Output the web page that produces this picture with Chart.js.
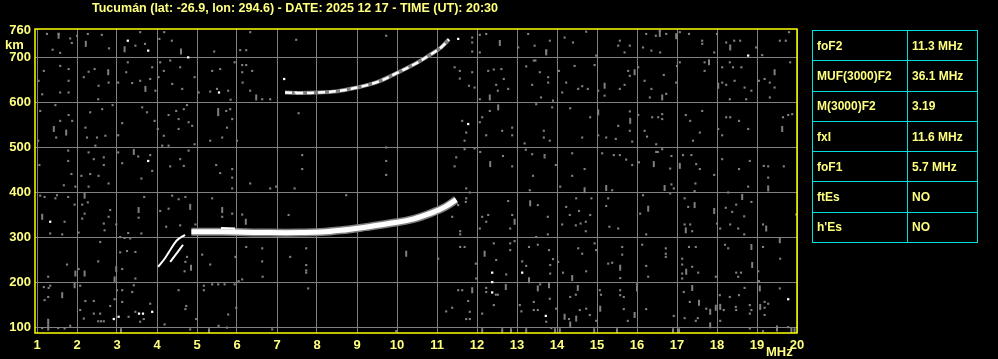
<!DOCTYPE html>
<html>
<head>
<meta charset="utf-8">
<script src="https://cdn.jsdelivr.net/npm/chart.js@4.4.1/dist/chart.umd.min.js"></script>
<style>
  html, body { margin: 0; padding: 0; background: #000; }
  #wrap { position: relative; width: 998px; height: 359px; }
  #iono { position: absolute; left: 0; top: 0; }
  #params {
    position: absolute; left: 812px; top: 30px;
    border-collapse: collapse;
    font: bold 12px "Liberation Sans", Arial, sans-serif;
    color: #ffff80;
  }
  #params td {
    border: 1px solid #00e0e0;
    height: 29.3px; padding: 0 0 0 4px;
  }
  #params td.k { width: 90px; }
  #params td.v { width: 65px; }
</style>
</head>
<body>
<div id="wrap">
  <canvas id="iono" width="998" height="359"></canvas>
  <table id="params"></table>
</div>
<script>
/* ===================================
   IONOGRAM - Tucumán
   =================================== */

const titleText = 'Tucumán (lat: -26.9, lon: 294.6) - DATE: 2025 12 17 - TIME (UT): 20:30';
const freqTicks = [1, 2, 3, 4, 5, 6, 7, 8, 9, 10, 11, 12, 13, 14, 15, 16, 17, 18, 19, 20];
const heightTicks = [100, 200, 300, 400, 500, 600, 700, 760];

// parameter table
const paramNames = ['foF2', 'MUF(3000)F2', 'M(3000)F2', 'fxI', 'foF1', 'ftEs', "h'Es"];
const paramValues = ['11.3 MHz', '36.1 MHz', '3.19', '11.6 MHz', '5.7 MHz', 'NO', 'NO'];

// echo traces [MHz, km]
const f2Trace = [[4.86, 313], [5.3, 313], [6.0, 312], [6.8, 311], [7.6, 311], [8.1, 312], [8.6, 316],
                 [9.2, 323], [9.8, 331], [10.4, 341], [10.9, 356], [11.2, 368], [11.48, 384]];
const f1LineA = [[4.03, 235], [4.2, 254], [4.35, 275], [4.5, 294], [4.7, 306]];
const f1LineB = [[4.33, 246], [4.5, 266], [4.65, 284]];
const f2Fragment = [[5.6, 321], [5.95, 320]];
const hop2Trace = [[7.2, 622], [7.6, 621], [8.0, 622], [8.5, 625], [9.0, 633], [9.5, 645],
                   [9.9, 661], [10.5, 688], [10.85, 707], [11.1, 722], [11.3, 740]];
const whiteSpots = [[3.27, 737], [3.78, 715], [4.78, 700], [5.55, 622], [11.53, 741], [11.78, 552],
                    [18.78, 704], [1.33, 335], [2.92, 119], [3.04, 124], [3.55, 131], [3.65, 131],
                    [3.88, 135], [12.38, 222], [12.38, 201], [12.38, 178], [13.13, 222], [13.72, 126],
                    [19.78, 163], [7.47, 622], [7.18, 652], [3.78, 470]];

// background noise dots
const noiseDots = [
  [1.25, 752], [1.54, 752], [1.83, 742], [2.0, 748], [2.27, 752], [2.62, 750], [1.39, 717], [1.58, 710],
  [1.87, 732], [2.8, 720], [3.46, 726], [3.7, 730], [4.06, 741], [4.37, 737], [4.6, 713], [4.18, 756],
  [3.58, 756], [5.43, 713], [6.08, 716], [6.23, 716], [6.33, 756], [7.48, 739], [9.73, 748],
  [1.17, 670], [1.04, 648], [1.58, 681], [1.79, 674], [1.79, 648], [1.58, 622], [1.79, 622], [1.13, 618],
  [2.17, 656], [2.29, 668], [2.44, 674], [2.54, 637], [2.79, 644], [2.53, 607], [3.03, 644], [3.23, 667],
  [3.27, 689], [3.38, 643], [3.58, 648], [3.83, 652], [3.88, 678], [4.08, 689], [4.33, 693], [4.17, 670],
  [4.58, 678], [4.04, 656], [3.96, 626], [4.38, 641], [4.63, 630], [4.94, 656], [5.38, 670], [5.58, 674],
  [5.5, 630], [5.33, 624], [5.78, 626], [5.04, 622], [5.94, 689], [6.13, 683], [6.23, 683], [6.38, 670],
  [6.13, 667], [6.14, 644], [6.33, 626], [6.63, 607], [6.83, 607], [5.84, 606],
  [1.08, 581], [1.46, 594], [1.79, 572], [1.58, 559], [1.48, 522], [1.03, 515], [1.88, 559], [2.21, 544],
  [2.33, 578], [2.63, 585], [2.5, 522], [2.25, 522], [2.71, 526], [2.89, 594], [3.13, 554], [3.03, 527],
  [3.63, 589], [3.75, 578], [3.94, 559], [4.02, 541], [4.17, 526], [4.29, 572], [4.48, 581], [4.67, 585],
  [4.54, 563], [4.79, 556], [4.54, 541], [4.75, 594], [4.88, 548], [4.94, 507], [5.33, 515], [5.53, 572],
  [5.73, 581], [5.75, 544], [5.83, 585], [5.88, 563], [5.63, 522], [6.0, 515], [7.54, 576],
  [1.06, 461], [1.78, 493], [1.78, 470], [1.86, 441], [2.11, 437], [2.29, 489], [2.46, 504], [2.42, 474],
  [2.67, 478], [2.67, 461], [2.33, 441], [2.54, 437], [3.03, 489], [3.13, 465], [3.53, 480], [3.83, 483],
  [3.88, 448], [3.61, 431], [4.13, 504], [4.29, 504], [4.58, 474], [4.67, 459], [4.33, 458], [4.79, 493],
  [5.48, 461], [5.58, 443], [5.88, 452], [5.88, 433], [7.63, 483], [7.63, 452], [9.73, 500], [9.73, 470],
  [9.73, 439],
  [12.07, 750], [12.23, 752], [11.88, 744], [11.88, 733], [11.88, 713], [12.07, 711], [13.03, 722],
  [13.28, 752], [13.44, 726], [13.73, 715], [13.82, 737], [14.19, 744], [14.4, 733], [14.73, 757],
  [14.98, 704], [15.53, 726], [15.57, 737], [15.69, 711], [15.82, 726], [16.15, 722], [16.23, 752],
  [16.36, 715], [16.47, 748], [16.57, 759], [16.58, 711], [16.73, 752], [17.07, 756], [17.3, 752],
  [17.63, 737], [17.63, 730], [17.93, 711], [18.0, 752], [18.23, 733], [18.43, 737], [18.58, 737],
  [19.13, 705], [18.98, 722], [19.57, 737], [19.72, 737], [19.8, 756],
  [11.44, 678], [11.57, 670], [11.57, 653], [11.88, 667], [11.8, 637], [11.94, 633], [12.07, 607],
  [12.28, 670], [12.42, 673], [12.61, 674], [12.67, 652], [12.48, 639], [12.52, 626], [12.78, 630],
  [13.23, 680], [13.38, 639], [13.57, 667], [13.78, 656], [13.78, 644], [13.6, 611], [13.9, 604],
  [13.42, 693], [13.46, 693], [14.05, 670], [14.23, 644], [14.44, 681], [14.53, 630], [14.63, 636],
  [14.77, 630], [14.13, 622], [14.94, 683], [15.03, 626], [15.19, 615], [15.57, 630], [15.69, 639],
  [15.82, 659], [15.78, 670], [16.03, 678], [16.19, 648], [16.36, 630], [16.32, 611], [16.67, 661],
  [16.73, 619], [16.98, 644], [17.0, 681], [17.07, 689], [17.69, 689], [17.69, 670], [18.13, 678],
  [18.32, 689], [18.4, 678], [18.61, 678], [18.13, 644], [18.23, 639], [18.44, 648], [18.69, 633],
  [18.86, 626], [18.32, 607], [18.73, 607], [19.19, 652], [19.32, 644], [19.44, 633], [19.32, 611],
  [19.83, 689], [19.05, 648],
  [11.63, 559], [11.73, 533], [11.69, 515], [12.07, 556], [12.13, 567], [12.23, 527], [12.32, 581],
  [12.63, 537], [12.88, 544], [12.88, 527], [13.19, 509], [13.48, 596], [13.67, 537], [13.67, 522],
  [13.82, 515], [13.88, 589], [14.33, 587], [14.63, 522], [14.83, 567], [15.03, 527], [15.23, 522],
  [15.47, 519], [15.53, 548], [15.82, 580], [15.82, 537], [15.88, 513], [16.03, 572], [16.19, 537],
  [16.25, 524], [16.38, 567], [16.53, 567], [16.63, 563], [16.63, 574], [16.48, 507], [17.22, 572],
  [17.33, 559], [17.63, 581], [17.57, 533], [17.4, 515], [18.03, 541], [18.13, 527], [18.23, 567],
  [18.33, 567], [18.55, 559], [18.78, 541], [19.78, 572], [19.65, 567], [19.88, 574],
  [11.48, 478], [11.44, 458], [11.69, 496], [11.94, 498], [12.08, 490], [12.65, 481], [12.88, 458],
  [13.22, 495], [13.38, 485], [13.4, 437], [13.69, 483], [13.69, 478], [13.97, 461], [14.38, 487],
  [14.38, 437], [14.69, 452], [15.13, 487], [15.42, 483], [15.57, 483], [15.73, 473], [15.88, 461],
  [16.05, 467], [16.48, 490], [16.52, 490], [16.63, 496], [16.86, 481], [16.83, 453], [17.15, 483],
  [17.36, 483], [17.48, 463], [17.57, 452], [17.93, 439], [18.13, 474], [18.55, 452], [18.82, 470],
  [19.17, 459], [19.28, 458], [19.67, 458], [19.28, 433],
  [1.67, 416], [1.96, 413], [2.29, 413], [2.79, 420], [5.88, 409], [6.33, 420], [6.83, 409], [6.98, 413],
  [7.44, 409], [1.08, 393], [1.19, 390], [1.5, 394], [1.78, 390], [1.33, 309], [1.46, 387], [1.69, 335],
  [1.63, 307], [1.94, 373], [2.13, 373], [2.27, 378], [2.19, 353], [2.13, 342], [2.04, 311], [2.67, 331],
  [2.69, 316], [2.83, 361], [2.79, 346], [2.98, 329], [3.08, 301], [3.28, 310], [3.61, 309], [3.54, 344],
  [3.68, 390], [4.38, 393], [4.54, 385], [4.71, 390], [4.29, 364], [4.08, 359], [4.23, 324], [4.58, 327],
  [4.96, 329], [5.38, 387], [5.63, 346], [5.88, 353], [6.13, 351], [7.29, 350], [8.73, 394],
  [2.58, 290], [3.08, 267], [3.25, 270], [3.46, 268], [2.53, 247], [1.75, 240], [2.04, 230], [3.13, 230],
  [3.33, 298], [3.19, 299], [3.46, 209], [1.28, 213], [4.71, 246], [4.75, 257], [4.69, 225], [5.13, 262],
  [5.33, 240], [5.96, 257], [6.23, 279], [6.63, 276], [6.63, 247], [6.64, 213], [6.04, 203], [6.13, 207],
  [7.33, 257], [7.73, 276], [7.73, 239], [7.73, 227], [7.73, 222],
  [1.17, 190], [1.29, 188], [1.19, 161], [1.28, 168], [1.33, 193], [2.08, 193], [2.21, 159], [2.42, 159],
  [2.08, 139], [2.17, 120], [2.42, 131], [2.58, 131], [2.53, 114], [2.6, 114], [2.67, 114], [2.83, 148],
  [2.94, 163], [3.0, 183], [3.13, 183], [3.38, 179], [3.13, 157], [3.42, 194], [3.46, 135], [3.29, 124],
  [3.83, 153], [3.67, 119], [3.58, 113], [4.19, 107], [4.54, 183], [4.73, 148], [4.71, 141], [5.17, 193],
  [5.17, 183], [5.38, 196], [5.53, 196], [5.69, 196], [5.94, 196], [5.98, 144], [5.78, 129], [4.98, 119],
  [5.54, 104], [5.75, 100], [4.83, 96], [6.88, 96], [7.78, 187], [9.98, 92], [1.53, 99], [1.69, 98],
  [1.83, 104], [1.13, 99],
  [11.73, 409], [11.82, 400], [13.32, 405], [14.08, 413], [15.38, 405], [16.86, 418], [16.92, 409],
  [16.83, 398], [17.44, 403], [17.46, 420], [18.28, 400], [18.78, 413],
  [11.73, 387], [11.72, 379], [11.53, 372], [11.38, 346], [11.58, 314], [11.58, 307], [12.13, 346],
  [12.28, 350], [12.23, 335], [12.07, 320], [12.78, 381], [12.88, 350], [12.83, 320], [13.52, 372],
  [13.48, 301], [13.77, 346], [13.77, 307], [14.13, 329], [14.23, 368], [14.32, 350], [14.48, 387],
  [14.47, 327], [14.55, 359], [14.59, 331], [14.72, 335], [14.72, 314], [14.83, 350], [14.86, 387],
  [15.28, 387], [15.31, 324], [15.53, 320], [15.23, 370], [16.15, 394], [16.08, 353], [16.23, 307],
  [17.19, 387], [17.28, 368], [17.19, 329], [17.33, 329], [17.38, 314], [18.22, 366], [18.38, 357],
  [18.48, 373], [18.68, 347], [18.33, 329], [18.0, 331], [18.08, 320], [18.53, 320], [18.68, 307],
  [18.86, 379], [19.15, 329], [19.98, 351],
  [11.58, 279], [11.69, 279], [11.03, 253], [11.97, 242], [12.42, 287], [12.48, 250], [12.83, 287],
  [12.94, 292], [12.83, 272], [12.73, 218], [11.98, 209], [13.13, 247], [13.23, 237], [13.3, 279],
  [13.52, 284], [13.8, 272], [13.83, 239], [13.83, 220], [13.9, 252], [14.03, 246], [14.15, 222],
  [14.53, 276], [14.63, 264], [14.73, 225], [14.94, 287], [14.98, 272], [15.28, 242], [15.38, 244],
  [15.58, 210], [15.63, 279], [15.63, 262], [16.13, 284], [16.23, 237], [16.28, 213], [16.72, 276],
  [16.72, 264], [16.72, 257], [17.13, 253], [17.13, 240], [17.13, 220], [17.13, 209], [17.38, 235],
  [17.53, 222], [17.3, 279], [17.47, 279], [17.97, 213], [18.2, 284], [18.28, 276], [18.48, 222],
  [18.6, 222], [18.53, 213], [19.03, 225], [19.15, 279], [19.58, 253], [19.05, 203],
  [12.23, 188], [12.23, 179], [12.47, 173], [12.52, 173], [11.63, 183], [11.53, 183], [11.78, 159],
  [11.38, 144], [11.23, 136], [11.73, 119], [11.82, 119], [11.82, 135], [12.13, 131], [12.42, 150],
  [13.07, 150], [13.11, 136], [13.42, 157], [13.52, 139], [13.42, 139], [13.73, 113], [13.82, 164],
  [13.98, 142], [13.86, 99], [13.58, 196], [14.33, 168], [14.3, 119], [14.47, 173], [14.57, 139],
  [14.73, 142], [14.82, 128], [14.98, 115], [15.07, 183], [15.1, 173], [15.58, 183], [15.58, 172],
  [15.67, 168], [15.67, 141], [15.77, 115], [16.23, 141], [16.0, 196], [16.92, 126], [17.17, 179],
  [17.19, 121], [17.32, 157], [17.52, 121], [17.47, 115], [17.73, 142], [18.07, 172], [18.17, 139],
  [18.08, 115], [18.32, 168], [18.47, 146], [18.48, 139], [18.55, 172], [18.69, 188], [18.82, 150],
  [18.86, 139], [18.82, 131], [19.19, 157], [19.19, 144], [19.28, 153], [19.19, 128], [19.57, 187],
  [18.82, 98], [19.15, 92], [19.78, 101]
];

// short vertical noise streaks
const noiseDashes = [
  [1.54, 748], [2.22, 730], [3.19, 718], [4.6, 713], [6.48, 611], [1.73, 533], [1.42, 541], [2.78, 667],
  [3.71, 630], [5.53, 581], [3.42, 490], [12.57, 732], [13.73, 711], [16.57, 752], [16.98, 747],
  [18.33, 722], [12.32, 611], [15.19, 637], [15.94, 667], [16.63, 611], [17.8, 689], [18.03, 637],
  [19.44, 667], [12.53, 589], [15.03, 578], [15.83, 559], [19.63, 541], [12.33, 463], [16.42, 463],
  [17.07, 459], [1.13, 346], [2.19, 393], [3.54, 361], [4.83, 368], [5.63, 361], [6.22, 335],
  [10.23, 264], [1.96, 220], [2.19, 220], [2.98, 230], [2.94, 207], [4.85, 233], [1.63, 172],
  [1.94, 194], [1.28, 113], [1.28, 100], [14.69, 405], [15.23, 410], [16.69, 410], [19.28, 409],
  [12.94, 335], [13.33, 376], [16.28, 364], [17.44, 372], [17.22, 316], [17.93, 359], [18.63, 390],
  [19.23, 320], [12.19, 264], [13.3, 205], [14.38, 210], [15.58, 233], [17.23, 224], [18.86, 279],
  [18.88, 239], [19.57, 294], [11.88, 183], [12.72, 190], [13.52, 187], [13.8, 194], [14.19, 124],
  [14.33, 107], [14.48, 120], [14.52, 188], [15.08, 142], [15.94, 128], [16.0, 187], [17.38, 188],
  [17.55, 155], [17.83, 135], [17.83, 105], [17.97, 144], [18.08, 146], [19.07, 187], [19.08, 146],
  [19.5, 98], [19.86, 94], [19.94, 92], [12.13, 92], [12.63, 92], [13.23, 92], [14.07, 92], [14.93, 92],
  [15.5, 92], [16.9, 92], [17.05, 92], [3.1, 92], [5.3, 92], [12.85, 92], [13.95, 92]
];

const GRAY = '#808080';
const YELLOW = '#ffff80';
const axisFont = { family: '"Liberation Sans", Arial, sans-serif', size: 13, weight: 'bold' };

const toXY = arr => arr.map(p => ({ x: p[0], y: p[1] }));

// fill parameter table
const table = document.getElementById('params');
paramNames.forEach((name, i) => {
  const tr = document.createElement('tr');
  tr.innerHTML = '<td class="k">' + name + '</td><td class="v">' + paramValues[i] + '</td>';
  table.appendChild(tr);
});

// title, unit labels and yellow frame
const framePlugin = {
  id: 'frame',
  afterDraw(chart) {
    const { ctx, chartArea: a } = chart;
    ctx.save();
    ctx.strokeStyle = '#ffff00';
    ctx.lineWidth = 1.5;
    ctx.strokeRect(a.left, a.top, a.right - a.left, a.bottom - a.top);

    ctx.fillStyle = YELLOW;
    ctx.font = 'bold 13px "Liberation Sans", Arial, sans-serif';
    ctx.textBaseline = 'middle';
    // squeeze title into the original width
    const w = ctx.measureText(titleText).width;
    ctx.translate(92, 8);
    ctx.scale(406 / w, 1);
    ctx.fillText(titleText, 0, 0);
    ctx.restore();

    ctx.save();
    ctx.fillStyle = YELLOW;
    ctx.font = 'bold 13px ' + axisFont.family;
    ctx.textBaseline = 'middle';
    ctx.textAlign = 'left';
    ctx.fillText('km', 5, 45);
    ctx.fillText('MHz', 766, 352);
    ctx.restore();
  }
};

// Chart.js paints the first dataset on top, so echoes come first and noise last
new Chart(document.getElementById('iono'), {
  type: 'scatter',
  data: {
    datasets: [
      { data: toXY(whiteSpots), pointStyle: 'rect', pointRadius: 1.6, backgroundColor: '#ffffff', borderWidth: 0 },
      { data: toXY(hop2Trace), showLine: true, tension: 0.4, borderColor: '#ffffff', borderWidth: 2.5,
        borderDash: [7, 4], pointRadius: 0 },
      { data: toXY(hop2Trace), showLine: true, tension: 0.4, borderColor: GRAY, borderWidth: 4, pointRadius: 0 },
      { data: toXY(f1LineA), showLine: true, tension: 0.3, borderColor: '#ffffff', borderWidth: 2, pointRadius: 0 },
      { data: toXY(f1LineB), showLine: true, tension: 0.3, borderColor: '#ffffff', borderWidth: 2, pointRadius: 0 },
      { data: toXY(f2Fragment), showLine: true, borderColor: '#ffffff', borderWidth: 2, pointRadius: 0 },
      { data: toXY(f2Trace), showLine: true, tension: 0.4, borderColor: '#ffffff', borderWidth: 5, pointRadius: 0 },
      { data: toXY(f2Trace), showLine: true, tension: 0.4, borderColor: GRAY, borderWidth: 8, pointRadius: 0 },
      { data: toXY(noiseDashes), pointStyle: 'line', rotation: 90, pointRadius: 3, borderColor: GRAY, borderWidth: 2 },
      { data: toXY(noiseDots), pointStyle: 'rect', pointRadius: 1.5, backgroundColor: GRAY, borderWidth: 0 }
    ]
  },
  options: {
    responsive: false,
    animation: false,
    layout: { padding: { top: 29, right: 201, left: 0, bottom: 0 } },
    plugins: { legend: { display: false }, tooltip: { enabled: false } },
    scales: {
      x: {
        type: 'linear', min: 0.95, max: 20,
        afterBuildTicks: s => { s.ticks = freqTicks.map(v => ({ value: v })); },
        afterFit: s => { s.height = 26; },
        grid: { color: GRAY, lineWidth: 1, drawTicks: false },
        border: { display: false },
        ticks: { color: YELLOW, font: axisFont, padding: 5, maxRotation: 0, autoSkip: false }
      },
      y: {
        type: 'linear', min: 88, max: 763,
        afterBuildTicks: s => { s.ticks = heightTicks.map(v => ({ value: v })); },
        afterFit: s => { s.width = 35; },
        grid: { color: c => (c.tick && c.tick.value === 760 ? 'rgba(0,0,0,0)' : GRAY), lineWidth: 1, drawTicks: false },
        border: { display: false },
        ticks: { color: YELLOW, font: axisFont, padding: 4, autoSkip: false }
      }
    }
  },
  plugins: [framePlugin]
});
</script>
</body>
</html>
